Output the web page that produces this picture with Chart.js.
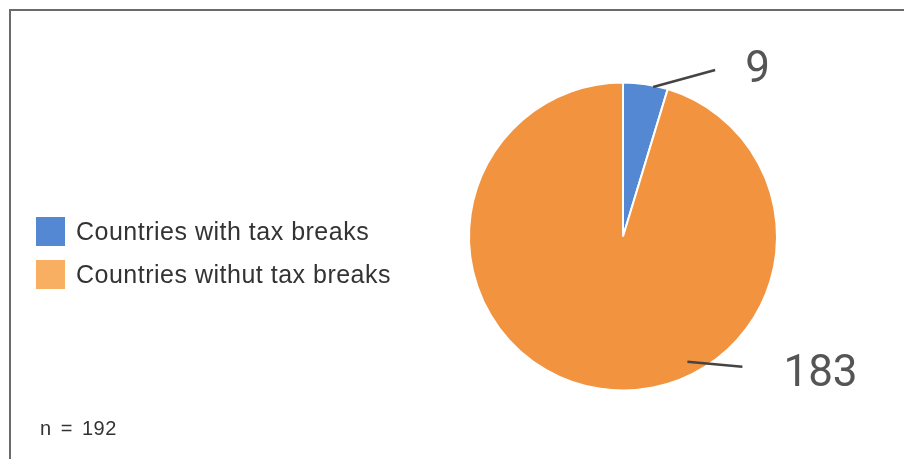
<!DOCTYPE html>
<html><head><meta charset="utf-8">
<script src="https://cdn.jsdelivr.net/npm/chart.js@4"></script>
<style>html,body{margin:0;padding:0;background:#fff;overflow:hidden}canvas{display:block}</style>
</head><body>
<canvas id="c" width="904" height="459"></canvas>
<script>
const categories = ['Countries with tax breaks', 'Countries withut tax breaks'];
const values = [9, 183];
const sliceColors = ['#5588D2', '#F2933F'];
const legendColors = ['#5588D2', '#F9AF62'];
const noteText = 'n = 192';

// label placement (style): angle on the pie (deg, clockwise from top), radius fraction, line offset
const labelStyle = [
  {ang: 11.4, rf: 0.99, dx: 62, dy: -17, tx: 30, ty: 1},
  {ang: 152.8, rf: 0.915, dx: 55, dy: 5, tx: 41, ty: 8}
];

const decor = {
  id: 'decor',
  afterDraw(chart) {
    const ctx = chart.ctx;
    ctx.save();
    // frame
    ctx.strokeStyle = '#6b6b6b';
    ctx.lineWidth = 2;
    ctx.beginPath();
    ctx.moveTo(10, 470); ctx.lineTo(10, 10); ctx.lineTo(910, 10);
    ctx.stroke();
    // legend
    ctx.font = '25px "Liberation Sans", Arial, sans-serif';
    ctx.letterSpacing = '0.5px';
    ctx.textBaseline = 'middle';
    ctx.textAlign = 'left';
    categories.forEach((c, i) => {
      const y = 217 + i * 43;
      ctx.fillStyle = legendColors[i];
      ctx.fillRect(36, y, 29, 29);
      ctx.fillStyle = '#333333';
      ctx.fillText(c, 76, y + 16);
    });
    // note
    ctx.font = '20px "Liberation Sans", Arial, sans-serif';
    ctx.letterSpacing = '0.5px';
    ctx.wordSpacing = '3px';
    ctx.textBaseline = 'alphabetic';
    ctx.fillStyle = '#333333';
    ctx.fillText(noteText, 40, 435);
    ctx.wordSpacing = '0px';
    ctx.letterSpacing = '0px';
    // data labels
    const meta = chart.getDatasetMeta(0);
    meta.data.forEach((arc, i) => {
      const s = labelStyle[i];
      const a = (s.ang - 90) * Math.PI / 180;
      const x0 = arc.x + Math.cos(a) * arc.outerRadius * s.rf;
      const y0 = arc.y + Math.sin(a) * arc.outerRadius * s.rf;
      const x1 = x0 + s.dx, y1 = y0 + s.dy;
      ctx.strokeStyle = '#444444';
      ctx.lineWidth = 2.5;
      ctx.beginPath(); ctx.moveTo(x0, y0); ctx.lineTo(x1, y1); ctx.stroke();
      ctx.font = '44px Roboto, sans-serif';
      ctx.fillStyle = '#555555';
      ctx.textBaseline = 'middle';
      ctx.fillText(String(values[i]), x1 + s.tx, y1 + s.ty);
    });
    ctx.restore();
  }
};

new Chart(document.getElementById('c'), {
  type: 'pie',
  data: {
    labels: categories,
    datasets: [{
      data: values,
      backgroundColor: sliceColors,
      borderColor: '#ffffff',
      borderWidth: 2
    }]
  },
  options: {
    responsive: false,
    animation: false,
    layout: {padding: {left: 468, right: 126, top: 81, bottom: 67}},
    plugins: {legend: {display: false}, tooltip: {enabled: false}}
  },
  plugins: [decor]
});
</script>
</body></html>
